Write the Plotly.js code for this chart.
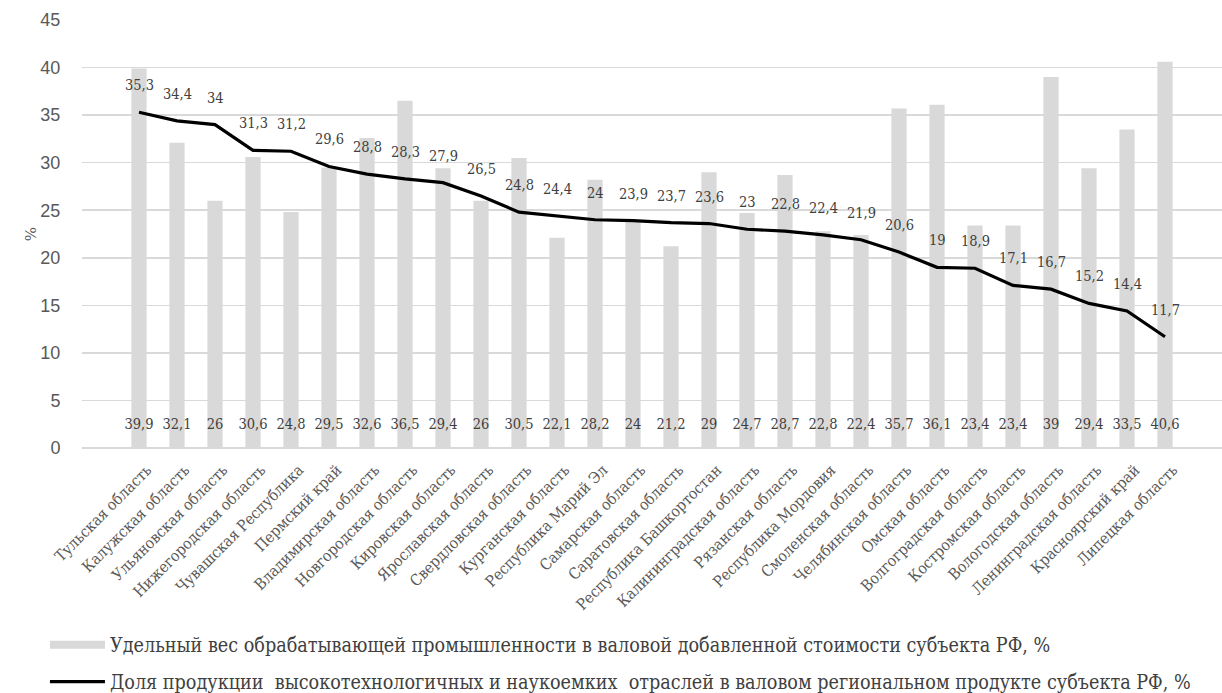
<!DOCTYPE html>
<html>
<head>
<meta charset="utf-8">
<script src="https://cdn.plot.ly/plotly-3.0.1.min.js"></script>
<style>html,body{margin:0;padding:0;background:#fff}#chart{width:1222px;height:693px}</style>
</head>
<body>
<div id="chart"></div>
<script>
const regions = [
  "Тульская область","Калужская область","Ульяновская область","Нижегородская область",
  "Чувашская Республика","Пермский край","Владимирская область","Новгородская область",
  "Кировская область","Ярославская область","Свердловская область","Курганская область",
  "Республика Марий Эл","Самарская область","Саратовская область","Республика Башкортостан",
  "Калининградская область","Рязанская область","Республика Мордовия","Смоленская область",
  "Челябинская область","Омская область","Волгоградская область","Костромская область",
  "Вологодская область","Ленинградская область","Красноярский край","Липецкая область"
];
const manufacturingShare = [39.9,32.1,26,30.6,24.8,29.5,32.6,36.5,29.4,26,30.5,22.1,28.2,24,21.2,29,24.7,28.7,22.8,22.4,35.7,36.1,23.4,23.4,39,29.4,33.5,40.6];
const hightechShare = [35.3,34.4,34,31.3,31.2,29.6,28.8,28.3,27.9,26.5,24.8,24.4,24,23.9,23.7,23.6,23,22.8,22.4,21.9,20.6,19,18.9,17.1,16.7,15.2,14.4,11.7];
const yTicks = [0,5,10,15,20,25,30,35,40,45];
const barName = "Удельный вес обрабатывающей промышленности в валовой добавленной стоимости субъекта РФ, %";
const lineName = "Доля продукции  высокотехнологичных и наукоемких  отраслей в валовом региональном продукте субъекта РФ, %";

const fmt = v => String(v).replace('.', ',');
const gray = "#595959";
const serifC = "DejaVu Serif Condensed";
const barLabelLevel = 2.4;

const traces = [
  {
    type: 'bar', x: regions, y: manufacturingShare, name: barName,
    marker: {color: '#d9d9d9'}, showlegend: false, hoverinfo: 'x+y'
  },
  {
    type: 'scatter', mode: 'text', x: regions, y: regions.map(() => barLabelLevel),
    text: manufacturingShare.map(fmt), textposition: 'middle center',
    textfont: {family: serifC, size: 14.5, color: '#404040'}, showlegend: false, hoverinfo: 'skip'
  },
  {
    type: 'scatter', mode: 'lines', x: regions, y: hightechShare, name: lineName,
    line: {color: '#000000', width: 3.2}, showlegend: true, legend: 'legend2'
  },
  {
    type: 'scatter', mode: 'lines', x: [null], y: [null], name: barName,
    line: {color: '#d9d9d9', width: 8}, showlegend: true, legend: 'legend', hoverinfo: 'skip'
  }
];

const annotations = regions.map((r, i) => ({
  x: r, y: hightechShare[i], xref: 'x', yref: 'y', text: fmt(hightechShare[i]),
  showarrow: false, yshift: 27, yanchor: 'middle',
  font: {family: serifC, size: 14.5, color: '#404040'}
}));

const layout = {
  width: 1222, height: 693,
  margin: {l: 82, r: 0, t: 20, b: 245, autoexpand: false},
  paper_bgcolor: '#fff', plot_bgcolor: '#fff',
  bargap: 0.6,
  xaxis: {
    type: 'category', tickangle: -45, showgrid: false, zeroline: false, automargin: false,
    showline: false, ticks: '', ticklabelstandoff: 9, ticklabelshift: 8,
    tickfont: {family: serifC, size: 15.5, color: gray}
  },
  yaxis: {
    range: [0, 45], tickvals: yTicks, showgrid: true, gridcolor: '#d9d9d9', gridwidth: 1.5,
    zeroline: true, zerolinecolor: '#d9d9d9', zerolinewidth: 1.5, automargin: false,
    tickfont: {family: "Liberation Sans", size: 18, color: gray},
    ticks: 'outside', ticklen: 17, tickcolor: 'rgba(0,0,0,0)',
    title: {text: '%', font: {family: "DejaVu Serif", size: 15, color: gray}, standoff: 0}
  },
  legend: {
    x: -0.0325, xanchor: 'left', y: -0.4145, yanchor: 'top', itemwidth: 55,
    font: {family: serifC, size: 19.6, color: '#404040'}, bgcolor: 'rgba(0,0,0,0)'
  },
  legend2: {
    x: -0.0325, xanchor: 'left', y: -0.501, yanchor: 'top', itemwidth: 55,
    font: {family: serifC, size: 19.6, color: '#404040'}, bgcolor: 'rgba(0,0,0,0)'
  },
  annotations: annotations,
  showlegend: true
};

Plotly.newPlot('chart', traces, layout, {displayModeBar: false, staticPlot: true});
</script>
</body>
</html>
